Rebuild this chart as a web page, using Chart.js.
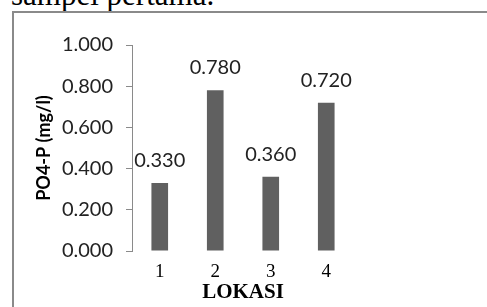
<!DOCTYPE html>
<html>
<head>
<meta charset="utf-8">
<script src="https://cdn.jsdelivr.net/npm/chart.js@4.4.1/dist/chart.umd.min.js"></script>
<style>
  html, body { margin: 0; padding: 0; background: #fff; }
  body { width: 487px; height: 307px; position: relative; overflow: hidden; }
  #caption { position: absolute; left: 11px; top: -21px; font-family: "Liberation Serif", serif; font-size: 31px; line-height: 31px; color: #000; white-space: nowrap; }
  #box { position: absolute; left: 12px; top: 11px; width: 480px; height: 300px; border-left: 2px solid #8a8a8a; border-top: 2px solid #8a8a8a; }
  #chart { position: absolute; left: 0; top: 0; }
</style>
</head>
<body>
<div id="caption">sampel pertama.</div>
<div id="box"></div>
<canvas id="chart" width="487" height="307"></canvas>
<script>
/*--------------------DATA--------------------*/
let lokasi = ['1', '2', '3', '4'];
let po4Values = [0.33, 0.78, 0.36, 0.72];
let yTicks = [0, 0.2, 0.4, 0.6, 0.8, 1.0];

/*--------------------PLUGIN--------------------*/
// draw the value above each bar
let valueLabels = {
    id: 'valueLabels',
    afterDatasetsDraw(chart) {
        let ctx = chart.ctx;
        let meta = chart.getDatasetMeta(0);
        ctx.save();
        ctx.font = '20px Lato';
        ctx.fillStyle = '#222';
        ctx.textAlign = 'center';
        ctx.textBaseline = 'alphabetic';
        meta.data.forEach((bar, i) => {
            ctx.fillText(po4Values[i].toFixed(3), bar.x, bar.y - 16);
        });
        ctx.restore();
    }
};

/*--------------------CHART--------------------*/
let chartCanvas = document.getElementById('chart');
let po4Chart = new Chart(chartCanvas, {
    type: 'bar',
    data: {
        labels: lokasi,
        datasets: [
            {
                label: 'PO4-P',
                data: po4Values,
                backgroundColor: '#606060',
                barPercentage: 0.3,
                categoryPercentage: 1
            }
        ]
    },
    options: {
        responsive: false,
        animation: false,
        layout: { padding: { left: 12, top: 45, right: 133, bottom: 2 } },
        plugins: {
            legend: { display: false },
            tooltip: { enabled: false }
        },
        scales: {
            x: {
                grid: { display: false },
                border: { display: false },
                ticks: {
                    font: { family: 'Liberation Serif', size: 19 },
                    color: '#000',
                    padding: 2
                },
                title: {
                    display: true,
                    text: 'LOKASI',
                    font: { family: 'Liberation Serif', size: 21, weight: 'bold' },
                    color: '#000',
                    padding: { top: 0, bottom: 0 }
                },
                afterFit(scale) { scale.height = 54; }
            },
            y: {
                min: 0,
                max: 1,
                afterBuildTicks(scale) { scale.ticks = yTicks.map((v) => ({ value: v })); },
                grid: { drawOnChartArea: false, color: '#8a8a8a', tickLength: 6 },
                border: { color: '#8a8a8a', width: 1 },
                ticks: {
                    font: { family: 'Lato', size: 20 },
                    color: '#222',
                    padding: 13,
                    callback: (v) => Number(v).toFixed(3)
                },
                title: {
                    display: true,
                    text: 'PO4-P (mg/l)',
                    font: { family: 'Lato', size: 18, weight: 'bold' },
                    color: '#000',
                    padding: { top: 21, bottom: 0 }
                },
                afterFit(scale) { scale.width = 120; }
            }
        }
    },
    plugins: [valueLabels]
});
</script>
</body>
</html>
